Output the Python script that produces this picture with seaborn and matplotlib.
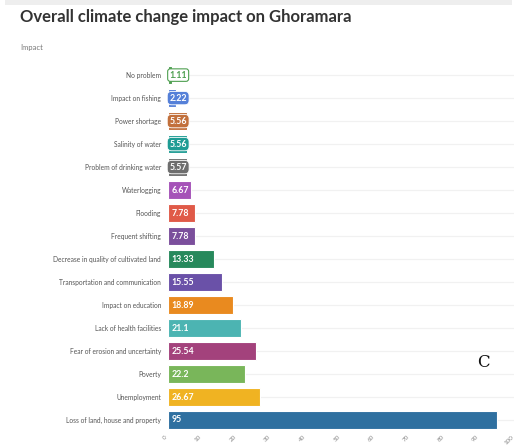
import matplotlib
matplotlib.use("Agg")
import matplotlib.pyplot as plt
import seaborn as sns
import pandas as pd
from matplotlib.patches import Rectangle

categories = [
    "No problem",
    "Impact on fishing",
    "Power shortage",
    "Salinity of water",
    "Problem of drinking water",
    "Waterlogging",
    "Flooding",
    "Frequent shifting",
    "Decrease in quality of cultivated land",
    "Transportation and communication",
    "Impact on education",
    "Lack of health facilities",
    "Fear of erosion and uncertainty",
    "Poverty",
    "Unemployment",
    "Loss of land, house and property",
]
values = [1.11, 2.22, 5.56, 5.56, 5.57, 6.67, 7.78, 7.78, 13.33, 15.55,
          18.89, 21.1, 25.54, 22.2, 26.67, 95]
value_labels = ["1.11", "2.22", "5.56", "5.56", "5.57", "6.67", "7.78", "7.78",
                "13.33", "15.55", "18.89", "21.1", "25.54", "22.2", "26.67", "95"]
colors = ["#4e9f50", "#5580d8", "#c2703c", "#1f9c94", "#6e6e6e", "#a552b8",
          "#e05a48", "#7b4f9c", "#27895c", "#6a51a8", "#e98a1f", "#4cb4b2",
          "#a3427c", "#79b65a", "#f0b322", "#2f70a0"]
x_ticks = [0, 10, 20, 30, 40, 50, 60, 70, 80, 90, 100]

df = pd.DataFrame({"impact": categories, "value": values})

sns.set_theme(style="white")
plt.rcParams["font.family"] = ["Lato", "DejaVu Sans"]

fig = plt.figure(figsize=(5.17, 4.47), dpi=100)
ax = fig.add_axes([0.325, 0.0347, 0.67, 0.823])

# faint row guides behind the bars
for i in range(len(categories)):
    ax.axhline(i, color="#f1f1f1", lw=0.9, zorder=0)

sns.barplot(data=df, x="value", y="impact", hue="impact", palette=colors,
            legend=False, orient="h", width=0.8, edgecolor="white",
            linewidth=0.8, saturation=1, ax=ax, zorder=2)

ax.set_xlim(0, 100)
ax.set_ylim(len(categories) - 0.5, -0.5)
ax.set_xticks(x_ticks)
ax.set_xticklabels([str(t) for t in x_ticks], rotation=45, fontsize=4.5,
                   color="#888888", ha="right")
ax.tick_params(axis="x", length=0, pad=2)
ax.tick_params(axis="y", length=0, pad=5, labelsize=4.8, labelcolor="#555555")
ax.set_xlabel("")
ax.set_ylabel("")
for s in ax.spines.values():
    s.set_visible(False)

# value labels inside the bars; short bars get a tag in the bar colour
for i, (v, lab, c) in enumerate(zip(values, value_labels, colors)):
    if i == 0:
        ax.text(0.4, i, lab, ha="left", va="center", fontsize=6.3,
                fontweight="bold", color=c, zorder=4,
                bbox=dict(boxstyle="round,pad=0.2,rounding_size=0.3",
                          fc="white", ec=c, lw=0.8))
    elif v < 6:
        ax.text(0.4, i, lab, ha="left", va="center", fontsize=6.3,
                fontweight="bold", color="white", zorder=4,
                bbox=dict(boxstyle="round,pad=0.25,rounding_size=0.5",
                          fc=c, ec="white", lw=0.6))
    else:
        ax.text(0.9, i, lab, ha="left", va="center", fontsize=6.3,
                fontweight="bold", color="white", zorder=4)

fig.patches.append(Rectangle((0.01, 0.988), 0.98, 0.012,
                             transform=fig.transFigure,
                             facecolor="#eeeeee", edgecolor="none"))
fig.text(0.039, 0.962, "Overall climate change impact on Ghoramara",
         fontsize=12, fontweight="bold", color="#333333", va="center",
         ha="left")
fig.text(0.039, 0.893, "Impact", fontsize=5.5, color="#777777",
         va="center", ha="left")
fig.text(0.935, 0.19, "C", fontsize=12, color="#111111",
         family="DejaVu Serif", va="center", ha="center")

fig.savefig("out.png", dpi=100)
